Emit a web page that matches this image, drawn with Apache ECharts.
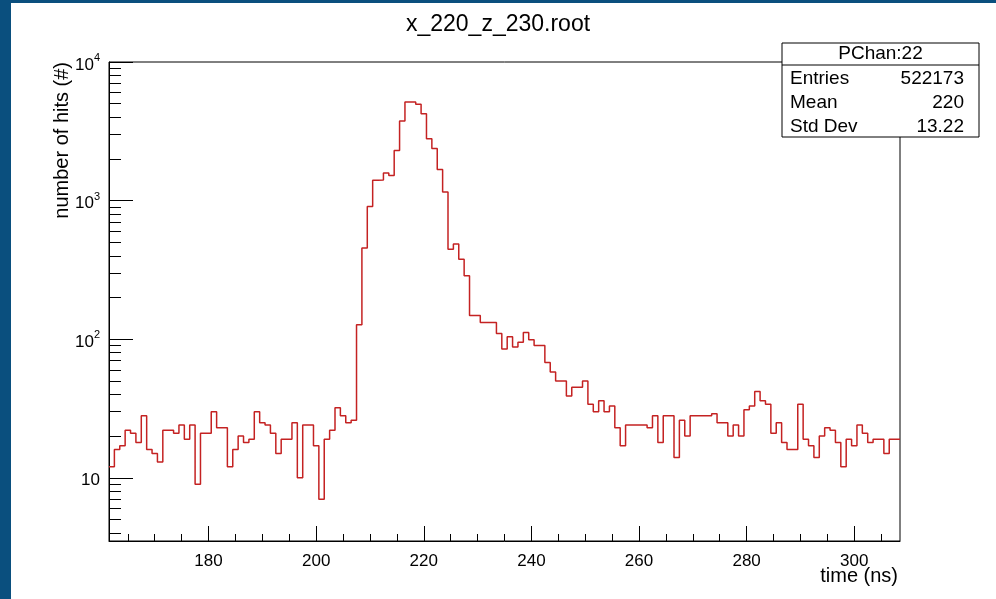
<!DOCTYPE html>
<html>
<head>
<meta charset="utf-8">
<script src="https://cdn.jsdelivr.net/npm/echarts@6/dist/echarts.min.js"></script>
<style>
  html, body { margin: 0; padding: 0; background: #fff; }
  #chart { width: 996px; height: 599px; }
</style>
</head>
<body>
<div id="chart"></div>
<script>
// PChan:22 hit-time histogram, 1 ns bins
const binStart = 161.5;
const binWidth = 1;
const hits = [
  12, 16, 17, 22, 21, 18, 28, 16, 15, 13,
  22, 22, 21, 24, 19, 24, 9, 21, 21, 30,
  23, 23, 12, 16, 20, 18, 19, 30, 25, 24,
  21, 15, 19, 19, 25, 10, 24, 24, 17, 7,
  19, 22, 32, 28, 25, 26, 127, 455, 905, 1400,
  1410, 1580, 1520, 2300, 3750, 5150, 5150, 4950, 4240, 2800,
  2380, 1675, 1156, 446, 486, 378, 287, 148, 148, 132,
  132, 132, 110, 85, 104, 88, 95, 112, 99, 90,
  90, 68, 58, 50, 50, 39, 45, 45, 50, 34,
  30, 36, 30, 33, 23, 17, 24, 24, 24, 24,
  23, 28, 18, 28, 28, 14, 26, 20, 28, 28,
  28, 28, 29, 25, 25, 20, 24, 20, 31, 33,
  42, 36, 34, 21, 25, 18, 16, 16, 34, 19,
  17, 14, 20, 23, 22, 18, 12, 19, 17, 24,
  21, 18, 19, 19, 15, 19, 19
];

const xMajorTicks = [180, 200, 220, 240, 260, 280, 300];
const xMinorTicks = [165, 170, 175, 185, 190, 195, 205, 210, 215, 225, 230, 235,
  245, 250, 255, 265, 270, 275, 285, 290, 295, 305];
const yMajorTicks = [10, 100, 1000, 10000];
const yMinorTicks = [4, 5, 6, 7, 8, 9, 20, 30, 40, 50, 60, 70, 80, 90,
  200, 300, 400, 500, 600, 700, 800, 900,
  2000, 3000, 4000, 5000, 6000, 7000, 8000, 9000];

const histTitle = 'x_220_z_230.root';
const histName = 'PChan:22';
const statsRows = [['Entries', '522173'], ['Mean', '220'], ['Std Dev', '13.22']];
const xTitle = 'time (ns)';
const yTitle = 'number of hits (#)';

const FONT = '"Liberation Sans", Arial, Helvetica, sans-serif';
const yMin = 3.5, yMax = 10000;
const xMin = binStart, xMax = binStart + hits.length * binWidth;

// bin left edges, plus a closing point at the last bin's right edge
const steps = hits.map((v, i) => [binStart + i * binWidth, v]);
steps.push([xMax, hits[hits.length - 1]]);

const chart = echarts.init(document.getElementById('chart'), null, { renderer: 'canvas' });

const gridL = 109, gridR = 900, gridT = 62, gridB = 541;

const statsBox = { x: 782, y: 43, w: 197, h: 94 };
const graphics = [
  // blue page border
  { type: 'rect', shape: { x: 0, y: 0, width: 11, height: 599 }, style: { fill: '#0a4f7e' }, silent: true, z: 1 },
  { type: 'rect', shape: { x: 0, y: 0, width: 996, height: 3 }, style: { fill: '#0a4f7e' }, silent: true, z: 1 },
  // stats box
  { type: 'rect', shape: { x: statsBox.x, y: statsBox.y, width: statsBox.w, height: statsBox.h },
    style: { fill: '#fff', stroke: '#000', lineWidth: 1 }, z: 100 },
  { type: 'line', shape: { x1: statsBox.x, y1: 65, x2: statsBox.x + statsBox.w, y2: 65 },
    style: { stroke: '#000', lineWidth: 1 }, z: 101 },
  { type: 'text', x: statsBox.x + statsBox.w / 2, y: 54, z: 101,
    style: { text: histName, font: '19px ' + FONT, fill: '#000', align: 'center', verticalAlign: 'middle' } },
  // axis titles
  { type: 'text', x: 62, y: 62, rotation: Math.PI / 2, z: 50,
    style: { text: yTitle, font: '20px ' + FONT, fill: '#000', align: 'right', verticalAlign: 'middle' } },
  { type: 'text', x: 898, y: 576, z: 50,
    style: { text: xTitle, font: '20px ' + FONT, fill: '#000', align: 'right', verticalAlign: 'middle' } }
];
statsRows.forEach((row, i) => {
  const cy = 78.5 + i * 24.2;
  graphics.push({ type: 'text', x: 790, y: cy, z: 101,
    style: { text: row[0], font: '19px ' + FONT, fill: '#000', align: 'left', verticalAlign: 'middle' } });
  graphics.push({ type: 'text', x: 964, y: cy, z: 101,
    style: { text: row[1], font: '19px ' + FONT, fill: '#000', align: 'right', verticalAlign: 'middle' } });
});

const option = {
  animation: false,
  backgroundColor: '#fff',
  title: {
    text: histTitle,
    left: 'center',
    top: 8,
    textStyle: { fontFamily: FONT, fontSize: 23, fontWeight: 'normal', color: '#000' }
  },
  grid: {
    left: gridL, right: 996 - gridR, top: gridT, bottom: 599 - gridB,
    show: true, borderColor: '#000', borderWidth: 1, backgroundColor: '#fff'
  },
  xAxis: [
    {
      type: 'value', min: xMin, max: xMax, position: 'bottom',
      axisLine: { show: true, onZero: false, lineStyle: { color: '#000', width: 1 } },
      axisTick: { show: true, inside: true, length: 15, customValues: xMajorTicks, lineStyle: { color: '#000', width: 1 } },
      axisLabel: { show: true, customValues: xMajorTicks, margin: 12, color: '#000', fontFamily: FONT, fontSize: 17 },
      splitLine: { show: false }
    },
    {
      type: 'value', min: xMin, max: xMax, position: 'bottom',
      axisLine: { show: false, onZero: false },
      axisTick: { show: true, inside: true, length: 7, customValues: xMinorTicks, lineStyle: { color: '#000', width: 1 } },
      axisLabel: { show: false },
      splitLine: { show: false }
    }
  ],
  yAxis: [
    {
      type: 'log', logBase: 10, min: yMin, max: yMax, position: 'left',
      axisLine: { show: true, onZero: false, lineStyle: { color: '#000', width: 1 } },
      axisTick: { show: true, inside: true, length: 24, customValues: yMajorTicks, lineStyle: { color: '#000', width: 1 } },
      axisLabel: {
        show: true, customValues: yMajorTicks, margin: 9, color: '#000',
        formatter: (v) => {
          const e = Math.round(Math.log10(v));
          return e === 1 ? '{b|10}' : '{b|10}{s|' + e + '}';
        },
        rich: {
          b: { fontFamily: FONT, fontSize: 17, color: '#000', padding: [6, 0, 0, 0] },
          s: { fontFamily: FONT, fontSize: 11, color: '#000', padding: [0, 0, 8, 0] }
        }
      },
      splitLine: { show: false }
    },
    {
      type: 'log', logBase: 10, min: yMin, max: yMax, position: 'left',
      axisLine: { show: false, onZero: false },
      axisTick: { show: true, inside: true, length: 12, customValues: yMinorTicks, lineStyle: { color: '#000', width: 1 } },
      axisLabel: { show: false },
      splitLine: { show: false }
    }
  ],
  series: [
    {
      name: histName,
      type: 'line',
      xAxisIndex: 0,
      yAxisIndex: 0,
      step: 'end',
      data: steps,
      showSymbol: false,
      symbol: 'none',
      lineStyle: { color: '#c42222', width: 1.5 },
      clip: true,
      z: 10
    }
  ],
  graphic: graphics
};

chart.setOption(option);
</script>
</body>
</html>
